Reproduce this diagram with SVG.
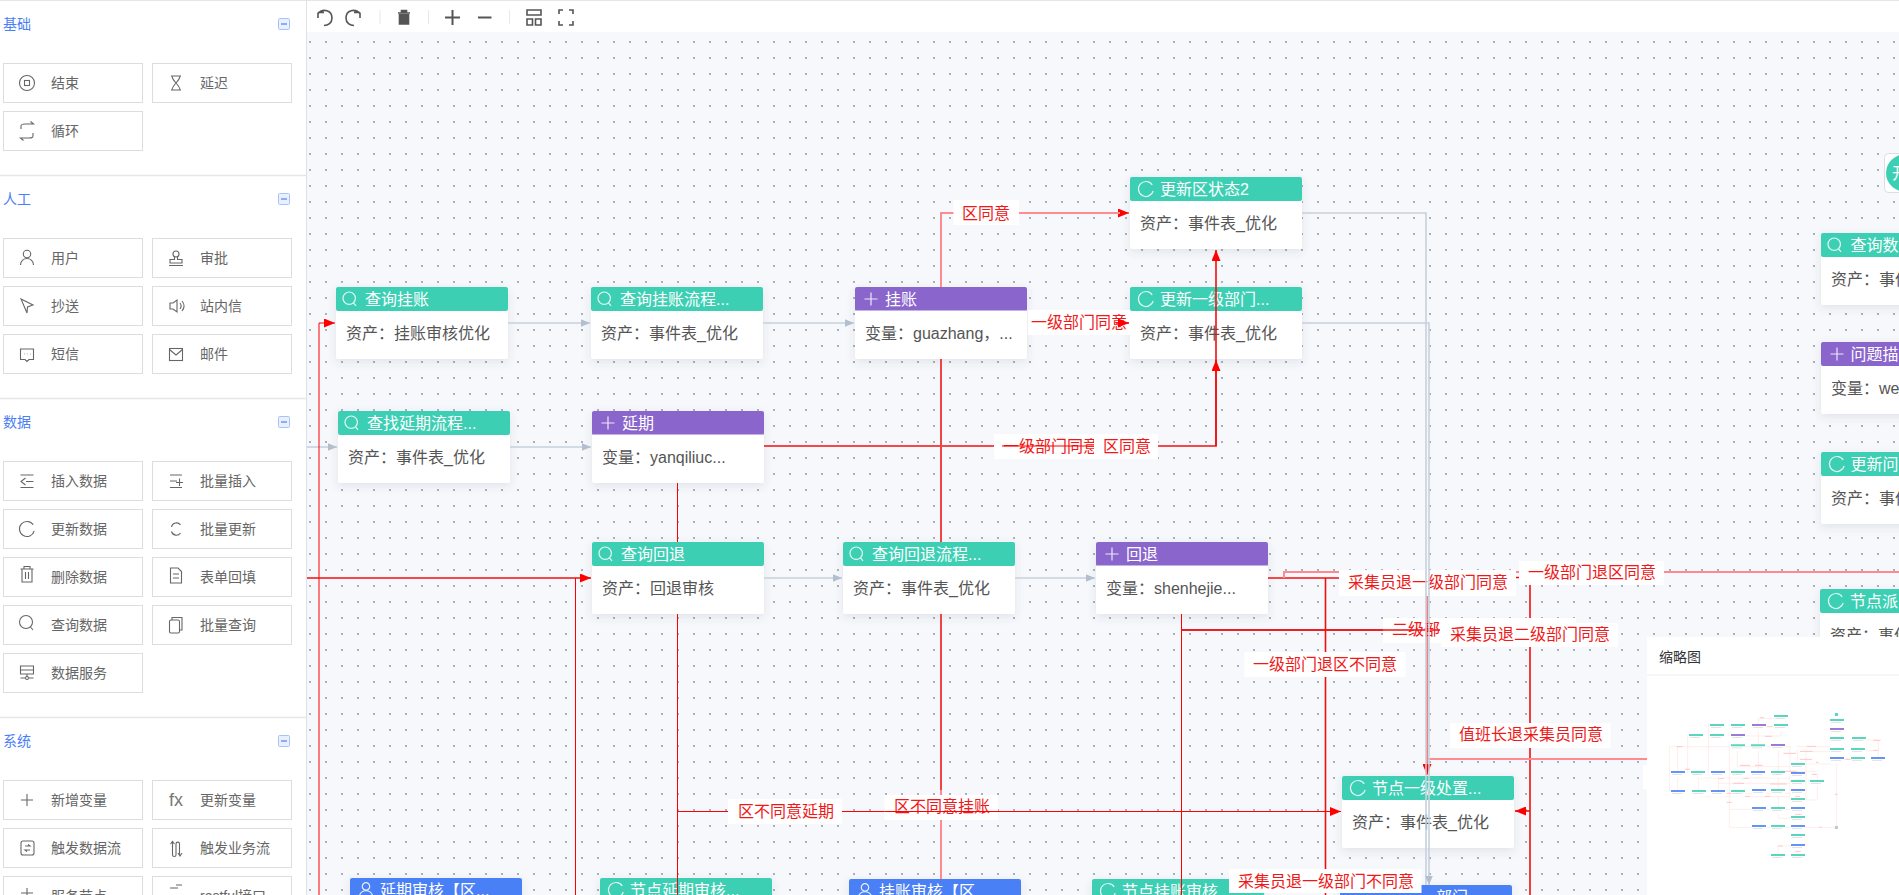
<svg xmlns="http://www.w3.org/2000/svg" width="1899" height="895" viewBox="0 0 1899 895">
<style>
text{font-family:"Liberation Sans","Noto Sans CJK SC",sans-serif}
.sec{font-size:14px;fill:#4a80f5}
.btn{fill:#fff;stroke:#dddddd;stroke-width:1}
.bl{font-size:14px;fill:#666}
.div{stroke:#e4e6ea;stroke-width:1.5;fill:none}
.ic{color:#666}
.ti{color:#555}
.sep{stroke:#e8e8e8;stroke-width:1}
.bd{fill:#fff;filter:url(#sh)}
.t{fill:#3dcfb4}.p{fill:#8a65cc}.b{fill:#4a80f5}
.ht{font-size:16px;fill:#fff}
.bt{font-size:16px;fill:#555}
.w{color:#fff;opacity:.85}
.r1{fill:none;stroke:#f00;stroke-width:1}
.r2{fill:none;stroke:#f01010;stroke-width:1.6}
.r3{fill:none;stroke:#f04444;stroke-width:2}
.pk{fill:none;stroke:#ff8a8f;stroke-width:2}
.g1{fill:none;stroke:#c6d0dd;stroke-width:1.6}
.lb{fill:#fff}
.lt{font-size:16px;fill:#f01818}
.ml{fill:none;stroke:#ffe8e8;stroke-width:2.5}
.md{fill:none;stroke:#ffc6c6;stroke-width:3}
.mt{font-size:14px;fill:#333}
</style>
<defs>
<pattern id="dots" width="16" height="16" patternUnits="userSpaceOnUse"><rect x="5" y="9" width="2" height="2" fill="#a8b1bd"/></pattern>
<filter id="sh" x="-15%" y="-15%" width="130%" height="140%"><feDropShadow dx="0" dy="3" stdDeviation="4" flood-color="#44506a" flood-opacity=".13"/></filter>
<filter id="msh" x="-20%" y="-20%" width="140%" height="160%"><feGaussianBlur stdDeviation="4"/></filter>
<marker id="ar" markerUnits="userSpaceOnUse" markerWidth="12" markerHeight="9" refX="11" refY="4.5" orient="auto"><path d="M0 0L11 4.5L0 9z" fill="#f00"/></marker>
<marker id="ag" markerUnits="userSpaceOnUse" markerWidth="10" markerHeight="9" refX="9.5" refY="4" orient="auto"><path d="M0 0L9.5 4L0 8z" fill="#b3bfcf"/></marker>
<g id="i-search" fill="none" stroke="currentColor" stroke-width="1.2"><circle cx="-.8" cy="-.8" r="6.2"/><path d="M3.6 3.8L6 6.8"/></g>
<g id="i-plus" fill="none" stroke="currentColor" stroke-width="1.2"><path d="M-6.5 0H6.5M0-6.5V6.5"/></g>
<g id="i-refresh" fill="none" stroke="currentColor" stroke-width="1.2"><path d="M6.200-4.200A7.500 7.500 0 1 0 7.200 2"/></g>
<g id="i-user" fill="none" stroke="currentColor" stroke-width="1.2"><circle cy="-3.6" r="3.7"/><path d="M-6.5 7C-6.5 2.5-3 .6 0 .6S6.5 2.5 6.5 7"/></g>
<g id="i-minus"><rect x="-5.500" y="-5.500" width="11" height="11" rx="1" fill="#e9effd" stroke="#a9c2f7"/><path d="M-3 0H3" stroke="#4a80f5" stroke-width="1.2"/></g>
<g id="mn"><rect width="42" height="20" fill="#fff"/><rect x="3" y="10" width="30" height="1.500" fill="#c8c8c8"/></g>
</defs>

<rect width="1899" height="895" fill="#fff"/>
<rect x="307" y="32" width="1592" height="863" fill="#f7f8fb"/>
<rect x="307" y="32" width="1592" height="863" fill="url(#dots)"/>
<path d="M0 .5H1899" stroke="#e4e6ea" stroke-width="1.2"/>
<path d="M306.5 0V895" stroke="#dfe1e6"/>

<g id="palette">
<g class="div"><path d="M0 175.5H306M0 398.5H306M0 717.5H306"/></g>
<text class="sec" x="3" y="29">基础</text><use href="#i-minus" x="284" y="24"/>
<text class="sec" x="3" y="204">人工</text><use href="#i-minus" x="284" y="199"/>
<text class="sec" x="3" y="427">数据</text><use href="#i-minus" x="284" y="422"/>
<text class="sec" x="3" y="746">系统</text><use href="#i-minus" x="284" y="741"/>
<g>
<rect class="btn" x="3.5" y="63.5" width="139" height="39"/><rect class="btn" x="152.5" y="63.5" width="139" height="39"/><rect class="btn" x="3.5" y="111.5" width="139" height="39"/>
<rect class="btn" x="3.5" y="238.5" width="139" height="39"/><rect class="btn" x="152.5" y="238.5" width="139" height="39"/>
<rect class="btn" x="3.5" y="286.5" width="139" height="39"/><rect class="btn" x="152.5" y="286.5" width="139" height="39"/>
<rect class="btn" x="3.5" y="334.5" width="139" height="39"/><rect class="btn" x="152.5" y="334.5" width="139" height="39"/>
<rect class="btn" x="3.5" y="461.5" width="139" height="39"/><rect class="btn" x="152.5" y="461.5" width="139" height="39"/>
<rect class="btn" x="3.5" y="509.5" width="139" height="39"/><rect class="btn" x="152.5" y="509.5" width="139" height="39"/>
<rect class="btn" x="3.5" y="557.5" width="139" height="39"/><rect class="btn" x="152.5" y="557.5" width="139" height="39"/>
<rect class="btn" x="3.5" y="605.5" width="139" height="39"/><rect class="btn" x="152.5" y="605.5" width="139" height="39"/>
<rect class="btn" x="3.5" y="653.5" width="139" height="39"/>
<rect class="btn" x="3.5" y="780.5" width="139" height="39"/><rect class="btn" x="152.5" y="780.5" width="139" height="39"/>
<rect class="btn" x="3.5" y="828.5" width="139" height="39"/><rect class="btn" x="152.5" y="828.5" width="139" height="39"/>
<rect class="btn" x="3.5" y="876.5" width="139" height="39"/><rect class="btn" x="152.5" y="876.5" width="139" height="39"/>
</g>
<g>
<text class="bl" x="51" y="88">结束</text><text class="bl" x="200" y="88">延迟</text><text class="bl" x="51" y="136">循环</text>
<text class="bl" x="51" y="263">用户</text><text class="bl" x="200" y="263">审批</text>
<text class="bl" x="51" y="311">抄送</text><text class="bl" x="200" y="311">站内信</text>
<text class="bl" x="51" y="359">短信</text><text class="bl" x="200" y="359">邮件</text>
<text class="bl" x="51" y="486">插入数据</text><text class="bl" x="200" y="486">批量插入</text>
<text class="bl" x="51" y="534">更新数据</text><text class="bl" x="200" y="534">批量更新</text>
<text class="bl" x="51" y="582">删除数据</text><text class="bl" x="200" y="582">表单回填</text>
<text class="bl" x="51" y="630">查询数据</text><text class="bl" x="200" y="630">批量查询</text>
<text class="bl" x="51" y="678">数据服务</text>
<text class="bl" x="51" y="805">新增变量</text><text class="bl" x="200" y="805">更新变量</text>
<text class="bl" x="51" y="853">触发数据流</text><text class="bl" x="200" y="853">触发业务流</text>
<text class="bl" x="51" y="901">服务节点</text><text class="bl" x="200" y="901">restful接口</text>
</g>
<g class="ic" fill="none" stroke="#666" stroke-width="1.1">
<circle cx="27" cy="83" r="7.5"/><rect x="24.5" y="80.5" width="5" height="5"/>
<path d="M171 76H181M171 90H181M172 76C172 81 180 85 180 90M180 76C180 81 172 85 172 90"/>
<path d="M21 129V126C21 124 23 124 25 124H33.500L30.500 121.500M33 133V136C33 138 31 138 29 138H20.500L23.500 140.500"/>
<circle cx="27" cy="254" r="3.7"/><path d="M20.5 265C20.5 260.5 24 258.5 27 258.5S33.5 260.5 33.5 265"/>
<circle cx="176" cy="254" r="3"/><path d="M174.5 257V259.5H170V263H182V259.5H177.5V257M169 265.5H183"/>
<path d="M21 299L33 305L27.5 307L27 313Z"/>
<path d="M170 303H173L177 300V312L173 309H170ZM180 303C181.5 305 181.500 307 180 309M182 301C184.500 304 184.500 308 182 311"/>
<path d="M20.500 349H33.500V359.500H29L27 361.500L25 359.500H20.500ZM24 354H24.500M27 354H27.500M30 354H30.500"/>
<rect x="169.500" y="348.500" width="13" height="12"/><path d="M169.500 349.500L176 355L182.500 349.500"/>
<path d="M20.500 475H33.500M20.500 487.500H33.500M26 481.500H33.500M25.500 478L21 481.500L25.500 485"/>
<path d="M170 475H182M170 481H177M170 487.500H182M179.500 478.500V486M176 482.500H183"/>
<path d="M33.200 524.800A7.500 7.500 0 1 0 34.200 531"/>
<path d="M180.500 525A5 5 0 0 0 171.500 527M171.500 531.500A5 5 0 0 0 180.500 533"/>
<path d="M20.500 569H33.500M24 569V566.500H30V569M22 569V582H32V569M25.500 572V579M28.500 572V579"/>
<path d="M170.500 568H178L181.500 571.500V583H170.500ZM173 574H179M173 578H179"/>
<circle cx="26" cy="622" r="6.500"/><path d="M30.500 627L33 630"/>
<rect x="169.500" y="620" width="10" height="13" rx="1.500"/><path d="M172 620V617.500H182V630H179.500"/>
<path d="M20.500 666H33.500V674H20.500ZM20.500 670H33.500M27 674V677M20.500 678H25M29 678H33.500"/><circle cx="27" cy="678" r="1.500"/>
<path d="M21 800H33M27 794V806"/>
<rect x="21" y="841" width="13" height="14" rx="2"/><path d="M25 846H30L28 844.500M30 850H25L27 851.500"/>
<path d="M172.500 842V855C172.500 857 176 857 176 855V844C176 841.500 179.500 841.500 179.500 844V855M170.500 844L172.500 841.500L174.500 844M178 853L180 856L182 853"/>
<path d="M27 888V895M21 893H33"/><path d="M170 888H178M176 885H182" />
</g>
<text x="169" y="806" font-size="18" fill="#777">fx</text>
</g>

<g id="toolbar" fill="none" stroke="#555" stroke-width="1.6">
<path d="M318 12.500V18M318 12.500H324M318 13.500C323 8 332 10 332 18C332 23 328 25.500 324 25.500"/>
<path d="M360 12.500V18M360 12.500H354M360 13.500C355 8 346 10 346 18C346 23 350 25.500 354 25.500"/>
<path d="M380 10V24M428.500 10V24M509.500 10V24" class="sep"/>
<path d="M398 13H410M401.500 13V10.500H406.500V13M399.500 14V24H408.500V14" fill="#555"/>
<path d="M452.500 10V25M445 17.500H460" stroke-width="2"/>
<path d="M478 17.500H491.500" stroke-width="2"/>
<path d="M527 10H541V15H527ZM527 19H532.500V25H527ZM535.500 19H541V25H535.500Z"/>
<path d="M559 14V10H563M569 10H573V14M573 21V25H569M563 25H559V21"/>
</g>

<g id="n-chaxunguazhang" transform="translate(336 287)"><rect class="bd" width="172" height="72" rx="2"/><rect class="t" width="172" height="24" rx="2"/><use class="w" href="#i-search" x="14" y="12"/><text class="ht" x="29" y="17.500">查询挂账</text><text class="bt" x="10" y="52">资产：挂账审核优化</text></g>
<g id="n-guazhangliucheng" transform="translate(591 287)"><rect class="bd" width="172" height="72" rx="2"/><rect class="t" width="172" height="24" rx="2"/><use class="w" href="#i-search" x="14" y="12"/><text class="ht" x="29" y="17.500">查询挂账流程...</text><text class="bt" x="10" y="52">资产：事件表_优化</text></g>
<g id="n-guazhang" transform="translate(855 287)"><rect class="bd" width="172" height="72" rx="2"/><rect class="p" width="172" height="24" rx="2"/><rect y="23" width="172" height="1" fill="#c3b2e6"/><use class="w" href="#i-plus" x="16" y="12"/><text class="ht" x="30" y="17.500">挂账</text><text class="bt" x="10" y="52">变量：guazhang，...</text></g>
<g id="n-gengxinqu2" transform="translate(1130 177)"><rect class="bd" width="172" height="72" rx="2"/><rect class="t" width="172" height="24" rx="2"/><use class="w" href="#i-refresh" x="16" y="12"/><text class="ht" x="30" y="17.500">更新区状态2</text><text class="bt" x="10" y="52">资产：事件表_优化</text></g>
<g id="n-gengxinyiji" transform="translate(1130 287)"><rect class="bd" width="172" height="72" rx="2"/><rect class="t" width="172" height="24" rx="2"/><use class="w" href="#i-refresh" x="16" y="12"/><text class="ht" x="30" y="17.500">更新一级部门...</text><text class="bt" x="10" y="52">资产：事件表_优化</text></g>
<g id="n-yanqiliucheng" transform="translate(338 411)"><rect class="bd" width="172" height="72" rx="2"/><rect class="t" width="172" height="24" rx="2"/><use class="w" href="#i-search" x="14" y="12"/><text class="ht" x="29" y="17.500">查找延期流程...</text><text class="bt" x="10" y="52">资产：事件表_优化</text></g>
<g id="n-yanqi" transform="translate(592 411)"><rect class="bd" width="172" height="72" rx="2"/><rect class="p" width="172" height="24" rx="2"/><rect y="23" width="172" height="1" fill="#c3b2e6"/><use class="w" href="#i-plus" x="16" y="12"/><text class="ht" x="30" y="17.500">延期</text><text class="bt" x="10" y="52">变量：yanqiliuc...</text></g>
<g id="n-chaxunhuitui" transform="translate(592 542)"><rect class="bd" width="172" height="72" rx="2"/><rect class="t" width="172" height="24" rx="2"/><use class="w" href="#i-search" x="14" y="12"/><text class="ht" x="29" y="17.500">查询回退</text><text class="bt" x="10" y="52">资产：回退审核</text></g>
<g id="n-huituiliucheng" transform="translate(843 542)"><rect class="bd" width="172" height="72" rx="2"/><rect class="t" width="172" height="24" rx="2"/><use class="w" href="#i-search" x="14" y="12"/><text class="ht" x="29" y="17.500">查询回退流程...</text><text class="bt" x="10" y="52">资产：事件表_优化</text></g>
<g id="n-huitui" transform="translate(1096 542)"><rect class="bd" width="172" height="72" rx="2"/><rect class="p" width="172" height="24" rx="2"/><rect y="23" width="172" height="1" fill="#c3b2e6"/><use class="w" href="#i-plus" x="16" y="12"/><text class="ht" x="30" y="17.500">回退</text><text class="bt" x="10" y="52">变量：shenhejie...</text></g>
<g id="n-yanqishenhe" transform="translate(350 878)"><rect class="bd" width="172" height="72" rx="2"/><rect class="b" width="172" height="24" rx="2"/><use class="w" href="#i-user" x="16" y="12"/><text class="ht" x="30" y="17.500">延期审核【区...</text></g>
<g id="n-jiedianyanqi" transform="translate(600 878)"><rect class="bd" width="172" height="72" rx="2"/><rect class="t" width="172" height="24" rx="2"/><use class="w" href="#i-refresh" x="16" y="12"/><text class="ht" x="30" y="17.500">节点延期审核...</text></g>
<g id="n-guazhangshenhe" transform="translate(849 879)"><rect class="bd" width="172" height="72" rx="2"/><rect class="b" width="172" height="24" rx="2"/><use class="w" href="#i-user" x="16" y="12"/><text class="ht" x="30" y="17.500">挂账审核【区</text></g>
<g id="n-jiedianguazhang" transform="translate(1092 879)"><rect class="bd" width="172" height="72" rx="2"/><rect class="t" width="172" height="24" rx="2"/><use class="w" href="#i-refresh" x="16" y="12"/><text class="ht" x="30" y="17.500">节点挂账审核</text></g>
<g id="n-yijichuzhi" transform="translate(1342 776)"><rect class="bd" width="172" height="72" rx="2"/><rect class="t" width="172" height="24" rx="2"/><use class="w" href="#i-refresh" x="16" y="12"/><text class="ht" x="30" y="17.500">节点一级处置...</text><text class="bt" x="10" y="52">资产：事件表_优化</text></g>
<g id="n-bumen" transform="translate(1340 885)"><rect class="bd" width="172" height="72" rx="2"/><rect class="b" width="172" height="24" rx="2"/><text class="ht" x="96" y="17.500">部门</text></g>
<g id="n-chaxunshu" transform="translate(1821 233)"><rect class="bd" width="172" height="72" rx="2"/><rect class="t" width="172" height="24" rx="2"/><use class="w" href="#i-search" x="14" y="12"/><text class="ht" x="29.500" y="17.500">查询数</text><text class="bt" x="10" y="52">资产：事件</text></g>
<g id="n-wentimiao" transform="translate(1821 342)"><rect class="bd" width="172" height="72" rx="2"/><rect class="p" width="172" height="24" rx="2"/><use class="w" href="#i-plus" x="16" y="12"/><text class="ht" x="29.500" y="17.500">问题描</text><text class="bt" x="10" y="52">变量：we</text></g>
<g id="n-gengxinwen" transform="translate(1821 452)"><rect class="bd" width="172" height="72" rx="2"/><rect class="t" width="172" height="24" rx="2"/><use class="w" href="#i-refresh" x="16" y="12"/><text class="ht" x="29.500" y="17.500">更新问</text><text class="bt" x="10" y="52">资产：事件</text></g>
<g id="n-jiedianpai" transform="translate(1820 589)"><rect class="bd" width="172" height="72" rx="2"/><rect class="t" width="172" height="24" rx="2"/><use class="w" href="#i-refresh" x="16" y="12"/><text class="ht" x="30" y="17.500">节点派</text><text class="bt" x="10" y="52">资产：事件</text></g>
<g id="n-start"><rect x="1884.500" y="153.500" width="30" height="39" rx="4" fill="#fff" stroke="#dadde2"/><circle cx="1904.500" cy="173" r="18.500" fill="#3dcfb4"/><text x="1892" y="179" font-size="16" fill="#fff">开</text></g>

<g id="connectors">
<path class="g1" d="M508 323H590" marker-end="url(#ag)"/>
<path class="g1" d="M763 323H854" marker-end="url(#ag)"/>
<path class="g1" d="M307 447H337" marker-end="url(#ag)"/>
<path class="g1" d="M510 447H591" marker-end="url(#ag)"/>
<path class="g1" d="M764 578H842" marker-end="url(#ag)"/>
<path class="g1" d="M1015 578H1095" marker-end="url(#ag)"/>

<path class="r1" d="M319 895V323H335" marker-end="url(#ar)"/>
<path class="r2" d="M307 578H591" marker-end="url(#ar)"/>
<path class="r1" d="M575.500 895V578"/>
<path class="r2" d="M764 446H1216V250" marker-end="url(#ar)"/>
<path class="r2" d="M1216 446V360" marker-end="url(#ar)"/>
<path class="pk" d="M941 287V213H1040"/>
<path class="r1" d="M1040 213H1129" marker-end="url(#ar)"/>
<path class="pk" d="M1040 213H1120"/>
<path class="r3" d="M941 359V542M941 614V790"/>
<path class="pk" d="M941 790V879"/>
<path class="r1" d="M677.500 483V542M677.500 614V895"/>
<path class="r1" d="M1181.500 614V895"/>
<path class="r1" d="M677.500 811.500H1341" stroke-width="1.200" marker-end="url(#ar)"/>
<path class="r2" d="M1530 811H1515" marker-end="url(#ar)"/>
<path class="r2" d="M1268 578H1340"/>
<path class="pk" d="M1284 578V572H1340"/>
<path class="r2" d="M1325.500 578V895"/>
<path class="r2" d="M1181 630H1390"/>
<path class="pk" d="M1516 572H1530"/>
<path class="pk" d="M1664 572H1899"/>
<path class="r2" d="M1516 577.500H1530V895" stroke-width="2"/>
<path class="pk" d="M1428 759H1647"/>

<rect class="lb" x="953.500" y="200" width="65.500" height="25"/><text class="lt" x="962" y="219">区同意</text>
<rect class="lb" x="1028" y="310" width="102" height="25"/><text class="lt" x="1031" y="328">一级部门同意</text>
<rect class="lb" x="994" y="434" width="116" height="25"/><text class="lt" x="1003" y="452">一级部门同意</text>
<rect class="lb" x="1094" y="434" width="64" height="25"/><text class="lt" x="1103" y="452">区同意</text>
<rect class="lb" x="728" y="799" width="114" height="25"/><text class="lt" x="738" y="817">区不同意延期</text>
<rect class="lb" x="884.500" y="795" width="113.500" height="25"/><text class="lt" x="894" y="812">区不同意挂账</text>
<rect class="lb" x="1339" y="570" width="177" height="26"/><text class="lt" x="1348" y="588">采集员退一级部门同意</text>
<rect class="lb" x="1519" y="561" width="145" height="24"/><text class="lt" x="1528" y="578">一级部门退区同意</text>
<rect class="lb" x="1383" y="618" width="193" height="25"/><text class="lt" x="1392" y="635">二级部</text>
<rect class="lb" x="1441" y="623" width="177" height="24"/><text class="lt" x="1450" y="640">采集员退二级部门同意</text>
<rect class="lb" x="1244.500" y="652" width="161" height="25"/><text class="lt" x="1253" y="670">一级部门退区不同意</text>
<rect class="lb" x="1450" y="723" width="160.500" height="25"/><text class="lt" x="1459" y="740">值班长退采集员同意</text>

<path class="r1" d="M1002 446H1094"/>
<path class="r1" d="M998 811.500H1341"/>
<path class="r1" d="M884.500 811.500H998"/>
<path class="r2" d="M1116 323H1129" marker-end="url(#ar)"/>
<path class="r2" d="M1181 630H1440"/>
<path class="r1" d="M1427 596V775" marker-end="url(#ar)"/>
<path class="g1" d="M1302 213H1426V885" stroke-width="1.200"/>
<path class="g1" d="M1302 323H1429V885" marker-end="url(#ag)"/>
<rect class="lb" x="1229" y="869" width="192.500" height="24"/><text class="lt" x="1238" y="887">采集员退一级部门不同意</text>
</g>

<g id="minimap">
<rect x="1647" y="637" width="252" height="258" fill="#fff"/>
<rect x="1643" y="765" width="4" height="24" fill="#fff"/>
<path d="M1647 675H1899" stroke="#eeeeee"/>
<text class="mt" x="1659" y="662">缩略图</text>
<g transform="translate(1640 690) scale(.33333)">
<path class="ml" d="M88 170V305M113 170V300M143 138V250M205 102V250M268 170V412H590M292 170V230H450M355 85V243M355 85H402M423 105V138H315M88 170H453M415 180V385H453M450 170V330M472 180V219M498 185V330M498 185H590M590 215V412M470 170H570M500 222H590M590 208H633M675 150H715V200M675 182H715M270 358H453M235 250V300M175 250V320H450M175 264H450M235 280H450M270 310H450M414 468V492M414 468H453M474 485V492M532 250V330H490M452 244H530"/>
<path class="md" d="M110 170H128M300 226H330M345 226H368M135 238H150M375 139H395M380 110H398M360 83H372M500 169H528M480 184H518M430 190H468M480 208H516M528 217H536M515 253H530M425 244H470M340 262H370M235 265H252M310 265H326M280 280H312M390 282H440M260 337H275M260 310H280M315 319H330M375 319H390M395 310H435M465 320H480M465 373H485M415 468H428M465 484H482M538 412H545M585 313H593M700 151H722M700 181H715M616 208H632"/>
<use href="#mn" x="402" y="75"/><use href="#mn" x="210" y="102"/><use href="#mn" x="273" y="102"/><use href="#mn" x="402" y="102"/><use href="#mn" x="147" y="132"/><use href="#mn" x="210" y="132"/><use href="#mn" x="273" y="163"/><use href="#mn" x="333" y="163"/><use href="#mn" x="453" y="219"/><use href="#mn" x="153" y="243"/><use href="#mn" x="273" y="243"/><use href="#mn" x="393" y="243"/><use href="#mn" x="453" y="270"/><use href="#mn" x="510" y="270"/><use href="#mn" x="453" y="324"/><use href="#mn" x="393" y="297"/><use href="#mn" x="156" y="300"/><use href="#mn" x="273" y="300"/><use href="#mn" x="393" y="351"/><use href="#mn" x="453" y="378"/><use href="#mn" x="393" y="405"/><use href="#mn" x="453" y="432"/><use href="#mn" x="393" y="492"/><use href="#mn" x="453" y="492"/><use href="#mn" x="570" y="87"/><use href="#mn" x="570" y="141"/><use href="#mn" x="636" y="141"/><use href="#mn" x="570" y="174"/><use href="#mn" x="633" y="174"/><use href="#mn" x="633" y="201"/>
<use href="#mn" x="336" y="102"/><use href="#mn" x="273" y="132"/><use href="#mn" x="393" y="162"/><use href="#mn" x="570" y="114"/>
<use href="#mn" x="93" y="243"/><use href="#mn" x="213" y="243"/><use href="#mn" x="333" y="243"/><use href="#mn" x="453" y="246"/><use href="#mn" x="93" y="300"/><use href="#mn" x="213" y="300"/><use href="#mn" x="336" y="297"/><use href="#mn" x="453" y="297"/><use href="#mn" x="336" y="351"/><use href="#mn" x="453" y="351"/><use href="#mn" x="336" y="405"/><use href="#mn" x="453" y="405"/><use href="#mn" x="453" y="462"/><use href="#mn" x="570" y="201"/><use href="#mn" x="693" y="201"/>
<path fill="#3dcfb4" opacity=".85" d="M402 75h42v6h-42zM210 102h42v6h-42zM273 102h42v6h-42zM402 102h42v6h-42zM147 132h42v6h-42zM210 132h42v6h-42zM273 163h42v6h-42zM333 163h42v6h-42zM453 219h42v6h-42zM153 243h42v6h-42zM273 243h42v6h-42zM393 243h42v6h-42zM453 270h42v6h-42zM510 270h42v6h-42zM453 324h42v6h-42zM393 297h42v6h-42zM156 300h42v6h-42zM273 300h42v6h-42zM393 351h42v6h-42zM453 378h42v6h-42zM393 405h42v6h-42zM453 432h42v6h-42zM393 492h42v6h-42zM453 492h42v6h-42zM570 87h42v6h-42zM570 141h42v6h-42zM636 141h42v6h-42zM570 174h42v6h-42zM633 174h42v6h-42zM633 201h42v6h-42zM585 69h9v9h-9z"/>
<path fill="#8a65cc" opacity=".85" d="M336 102h42v6h-42zM273 132h42v6h-42zM393 162h42v6h-42zM570 114h42v6h-42z"/>
<path fill="#4a80f5" opacity=".85" d="M93 243h42v6h-42zM213 243h42v6h-42zM333 243h42v6h-42zM453 246h42v6h-42zM93 300h42v6h-42zM213 300h42v6h-42zM336 297h42v6h-42zM453 297h42v6h-42zM336 351h42v6h-42zM453 351h42v6h-42zM336 405h42v6h-42zM453 405h42v6h-42zM453 462h42v6h-42zM570 201h42v6h-42zM693 201h42v6h-42z"/>
<rect x="585" y="408" width="9" height="9" fill="#c2c8d0"/>
</g>
</g>
</svg>
